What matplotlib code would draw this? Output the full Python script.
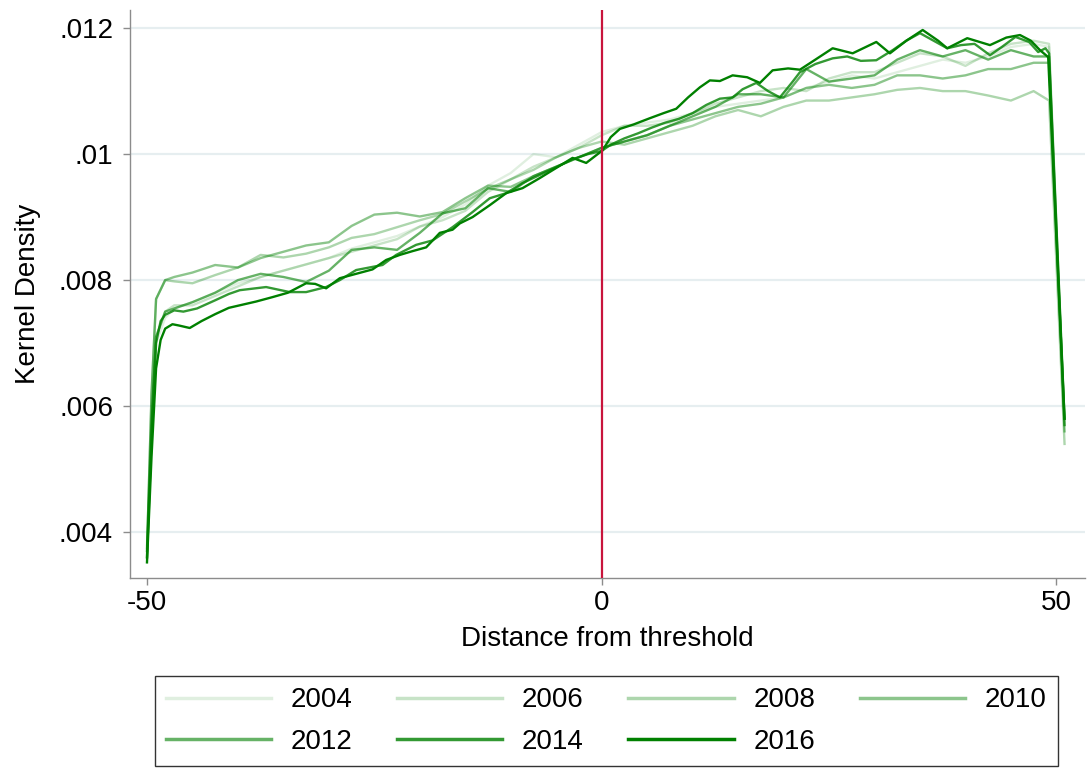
import numpy as np
import matplotlib.pyplot as plt

plt.rcParams['font.family'] = ['Liberation Sans', 'DejaVu Sans']
plt.rcParams['axes.unicode_minus'] = False

# distancia al umbral (eje x) para las series claras
x = [-50, -49.5, -49, -48, -47, -45, -42.5, -40, -37.5, -35, -32.5, -30, -27.5, -25, -22.5,
     -20, -17.5, -15, -12.5, -10, -7.5, -5, -2.5, 0, 2.5, 5, 7.5, 10, 12.5, 15, 17.5, 20,
     22.5, 25, 27.5, 30, 32.5, 35, 37.5, 40, 42.5, 45, 47.5, 49.2, 50.9]

# densidades (en unidades de 1e-4)
d2004 = [38, 58, 70, 74, 75.5, 76.5, 78, 79.5, 80.5, 81.5, 82.5, 83.5, 85, 86, 87,
         88.5, 90, 92, 95, 97, 100, 99.5, 101.5, 103.5, 104.5, 105, 105.5, 106.5, 107.5, 108,
         108.5, 109, 110.5, 111.5, 112.5, 112, 113, 114, 115, 114.5, 115.5, 117, 117.5, 117, 58]
d2006 = [37.5, 58, 71, 75, 76, 76, 77.5, 79, 80.5, 81.5, 82.5, 83.5, 84.5, 85.5, 86.5,
         88.5, 89.5, 91, 94, 96, 98, 99.5, 101, 103, 104.5, 104.5, 105, 106.5, 108, 109,
         110, 110.5, 110, 112, 113, 113, 114.5, 116, 115.5, 114, 116, 117.5, 118, 117.5, 57]
d2008 = [37, 62, 77, 80, 79.8, 79.5, 80.8, 82, 84, 83.6, 84.2, 85.2, 86.7, 87.3, 88.4,
         89.5, 90.5, 92.5, 94.5, 96, 97.5, 99.5, 101, 102, 101.5, 102.5, 103.5, 104.5, 106, 107,
         106, 107.5, 108.5, 108.5, 109, 109.5, 110.2, 110.5, 110, 110, 109.3, 108.5, 110, 108.5, 54]
d2010 = [37, 62, 77, 80, 80.5, 81.2, 82.4, 82, 83.5, 84.5, 85.5, 86, 88.6, 90.4, 90.7,
         90.1, 90.8, 93, 95, 94.8, 96.5, 98, 99.5, 101, 102, 103, 104.5, 105.5, 106.5, 107.5,
         108, 109, 110.5, 111, 110.5, 111, 112.5, 112.5, 112, 112.5, 113.5, 113.5, 114.5, 114.5, 56]
d2012 = [36, 57, 71, 75, 75.5, 76.5, 78, 80, 81, 80.5, 79.7, 81.5, 84.8, 85.2, 84.8,
         87.5, 90.6, 91.4, 94.6, 94, 96.5, 98, 99.5, 101, 102, 103, 104.5, 106, 107.5, 109.5,
         109.5, 109, 113.5, 111.5, 112, 112.5, 115, 116.5, 115.5, 116.5, 115, 116.5, 115.5, 115.5, 57]

# series oscuras, leidas con mas detalle
x2014 = [-50, -49.5, -49, -48.5, -48, -47, -46, -44.5, -42.5, -41, -39.8, -36.9, -34.3, -32.5,
         -30.3, -28.8, -27, -25.2, -24.1, -22.6, -20.4, -18.6, -16.4, -14.2, -12.3, -10.5, -8.7,
         -6.8, -5, -3.2, -1.5, 0, 1, 2.5, 4, 5.5, 7, 8.5, 10, 11.5, 13, 14.4, 15.5, 17, 18.3,
         19.6, 21, 21.8, 23.5, 25.4, 27, 28.5, 30.2, 32, 33.5, 35, 36.5, 38, 39.5, 41, 42.7,
         44, 45.5, 47, 48, 48.8, 49.2, 50.9]
d2014 = [36, 55, 70, 73.5, 74.5, 75.2, 75, 75.5, 76.8, 77.8, 78.4, 78.9, 78.1, 78.1,
         78.9, 80, 81.6, 82.1, 82.4, 84, 85.6, 86.3, 88.4, 90.8, 93, 93.8, 95.4,
         96.7, 97.9, 99.2, 100, 100.5, 101.5, 102.5, 103.3, 104.2, 105, 105.6, 106.5, 107.8, 108.8, 109, 110.3, 111.3, 110,
         109, 111.5, 113, 114.3, 115.2, 115.5, 114.8, 114.9, 116.5, 118, 119.2, 118, 116.8, 117.3, 117.5, 115.7,
         117, 118.6, 117.8, 116.2, 116.8, 116, 58]
x2016 = [-50, -49.5, -49, -48.5, -48, -47.2, -46.5, -45.3, -44, -42.5, -41, -39.8, -38, -36.2,
         -34.5, -32.5, -31.5, -30.3, -28.8, -27, -25.2, -23.7, -22.2, -20.8, -19.3, -17.8, -16.4,
         -15.6, -14.2, -12.3, -10.5, -8.7, -6.8, -5, -3.2, -1.7, 0.1, 1, 2, 3.5, 5.3, 6.8, 8.2,
         9.5, 10.8, 11.9, 13, 14.4, 16, 17.4, 18.8, 20.5, 21.8, 23.5, 25.4, 27.6, 30.2, 31.7,
         33.5, 35.3, 37, 38, 40.2, 42.7, 44.5, 46, 47.2, 48.2, 49.1, 50.9]
d2016 = [35.2, 52, 66, 70.5, 72.3, 73, 72.8, 72.4, 73.5, 74.6, 75.6, 76, 76.6, 77.3,
         78, 79.5, 79.4, 78.7, 80.3, 81, 81.7, 83.2, 84, 84.6, 85.2, 87.5, 88,
         89, 90, 91.9, 93.8, 94.6, 96.2, 97.8, 99.4, 98.6, 100.6, 102.7, 104, 104.7, 105.7, 106.5, 107.2,
         109, 110.6, 111.7, 111.6, 112.5, 112.2, 111.3, 113.3, 113.6, 113.4, 115, 116.8, 116, 117.8, 116,
         118, 119.7, 118, 116.8, 118.4, 117.3, 118.5, 118.9, 118, 116.5, 115.4, 58]

years = ['2004', '2006', '2008', '2010', '2012', '2014', '2016']
xs = [x, x, x, x, x, x2014, x2016]
series = [d2004, d2006, d2008, d2010, d2012, d2014, d2016]
alphas = [0.12, 0.22, 0.32, 0.45, 0.6, 0.8, 1.0]

yticks = [0.004, 0.006, 0.008, 0.01, 0.012]
ytick_labels = ['.004', '.006', '.008', '.01', '.012']
xticks = [-50, 0, 50]

fig = plt.figure(figsize=(10.9, 7.76), dpi=100)
ax = fig.add_axes([0.119, 0.255, 0.876, 0.732])

lines = {}
for yr, xx, d, a in zip(years, xs, series, alphas):
    (ln,) = ax.plot(xx, np.array(d) / 1e4, color=(0, 0.5, 0, a), lw=1.7, label=yr,
                    solid_joinstyle='round')
    lines[yr] = ln

ax.axvline(0, color='#c8143c', lw=1.6, zorder=5)

ax.set_xlim(-51.9, 53.1)
ax.set_ylim(0.00327, 0.012286)
ax.set_yticks(yticks)
ax.set_yticklabels(ytick_labels)
ax.set_xticks(xticks)
ax.yaxis.grid(True, color='#e6eef0', lw=1.6)
ax.set_axisbelow(True)

for s in ['top', 'right']:
    ax.spines[s].set_visible(False)
for s in ['left', 'bottom']:
    ax.spines[s].set_color('#8c8c8c')
    ax.spines[s].set_linewidth(1.0)
ax.tick_params(axis='both', labelsize=20, length=5, color='#8c8c8c', width=1.0)
ax.tick_params(axis='y', pad=7)

ax.set_xlabel('Distance from threshold', fontsize=20, labelpad=7)
ax.set_ylabel('Kernel Density', fontsize=20, labelpad=13)

# orden por columnas para que la leyenda quede por filas
order = ['2004', '2012', '2006', '2014', '2008', '2016', '2010']
leg = fig.legend([lines[k] for k in order], order, loc='center', bbox_to_anchor=(0.556, 0.071),
                 ncol=4, fontsize=20, handlelength=3.8, handletextpad=0.7, columnspacing=1.6,
                 labelspacing=0.55, borderpad=0.4, fancybox=False, edgecolor='black')
leg.get_frame().set_linewidth(1.0)
for h in leg.get_lines():
    h.set_linewidth(2.5)

fig.savefig('out.png', dpi=100)
